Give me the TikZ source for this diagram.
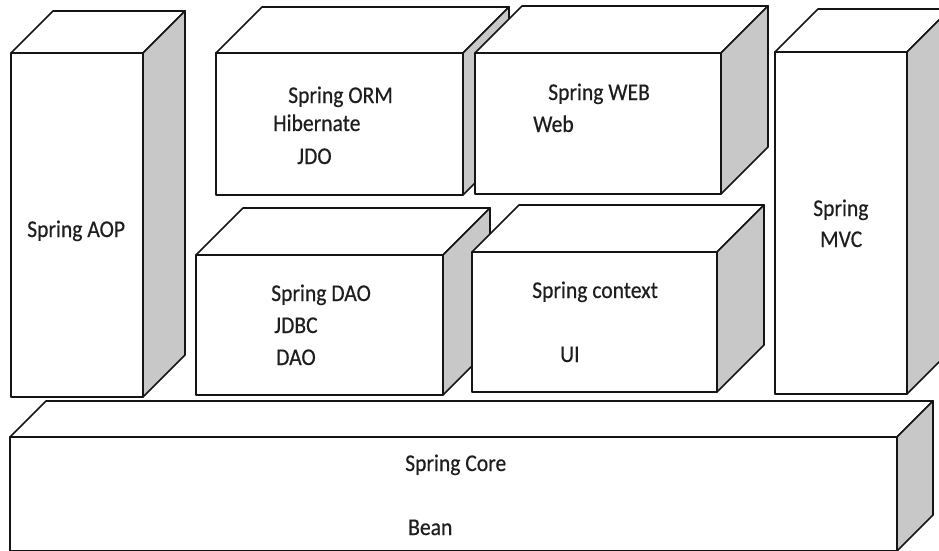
\documentclass[tikz,border=0pt]{standalone}
\usepackage{fontspec}
\setmainfont{Carlito}[FakeStretch=0.9,FakeBold=0.4]
\definecolor{sidegrey}{HTML}{C8C8C8}
\definecolor{ink}{HTML}{151515}
\definecolor{txt}{HTML}{1E1E1E}
\newcommand\cuboid[5]{%
  \filldraw[edge,fill=white] (#1,#2) -- ({#1+#5},{#2-#5}) -- ({#3+#5},{#2-#5}) -- (#3,#2) -- cycle;
  \filldraw[edge,fill=white] (#1,#2) rectangle (#3,#4);
  \filldraw[edge,fill=sidegrey] (#3,#2) -- ({#3+#5},{#2-#5}) -- ({#3+#5},{#4-#5}) -- (#3,#4) -- cycle;
}
\tikzset{
  edge/.style={draw=ink,line width=1.7pt,line join=round},
  lbl/.style={anchor=base west,inner sep=0pt,text=txt,font=\fontsize{24}{28}\selectfont}
}
\begin{document}
\begin{tikzpicture}[x=1pt,y=-1pt]
\clip (0,0) rectangle (939,550);
\fill[white] (0,0) rectangle (939,550);
% Spring AOP
\cuboid{11}{53}{143}{397}{42}
% Spring MVC
\cuboid{775}{52}{907}{394}{43}
% Spring ORM
\cuboid{216}{53}{463}{195}{46}
% Spring WEB
\cuboid{475}{53}{721}{194}{47}
% Spring DAO
\cuboid{196}{255}{443}{395}{47}
% Spring context
\cuboid{472}{252}{717}{392}{47}
% Spring Core
\cuboid{10}{437}{897}{551}{36}

\node[lbl] (aop) at (27,237) {Spring AOP};
\node[lbl] (orm) at (288,103) {Spring ORM};
\node[lbl] (hib) at (273,131) {Hibernate};
\node[lbl] (jdo) at (297,164) {JDO};
\node[lbl] (web) at (548,100) {Spring WEB};
\node[lbl] (webw) at (533,132) {Web};
\node[lbl] (dao) at (271,301) {Spring DAO};
\node[lbl] (jdbc) at (274,333) {JDBC};
\node[lbl] (daod) at (276,365) {DAO};
\node[lbl] (ctx) at (532,298) {Spring context};
\node[lbl] (ui) at (560,362) {UI};
\node[lbl] (mvc1) at (813,216) {Spring};
\node[lbl] (mvc2) at (820,247) {MVC};
\node[lbl] (core) at (405,471) {Spring Core};
\node[lbl] (bean) at (408,535) {Bean};
\end{tikzpicture}
\end{document}
